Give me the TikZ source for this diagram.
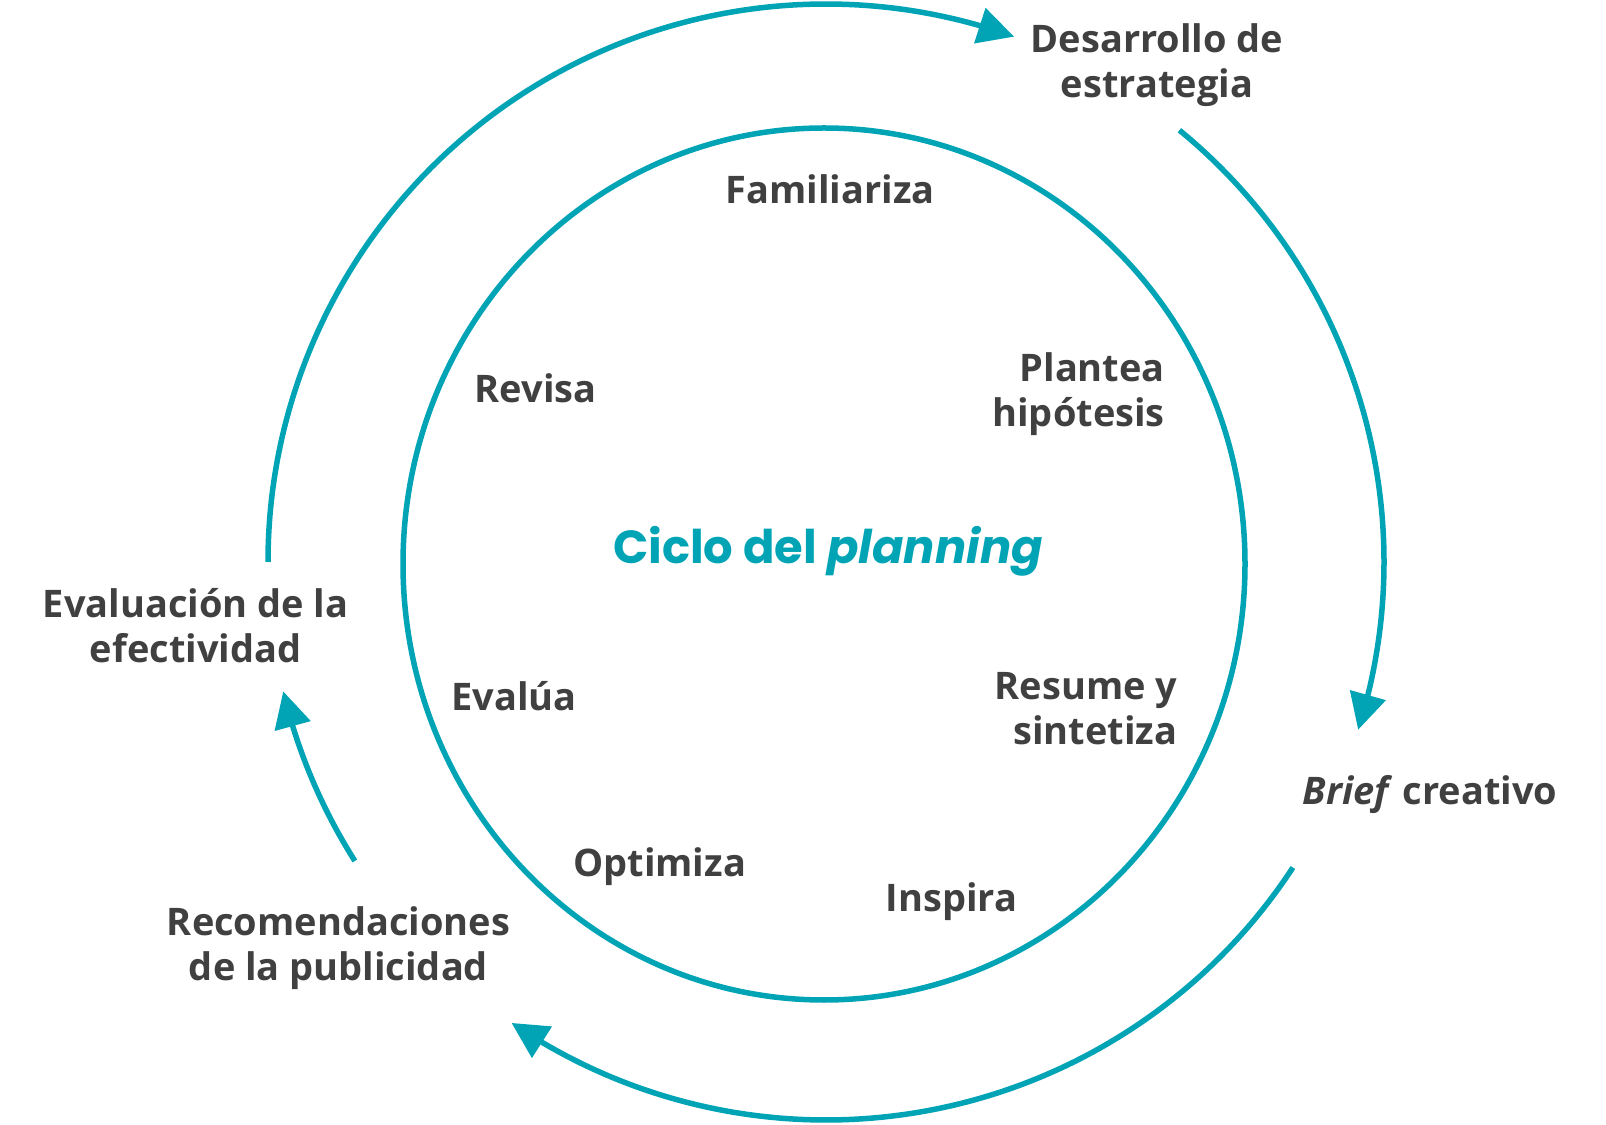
\documentclass[tikz,border=0pt]{standalone}
\usepackage{fontspec}
\setmainfont{Open Sans}
\newfontfamily\titlefont{Poppins}
\usetikzlibrary{arrows.meta,bending}
\definecolor{teal1}{RGB}{0,164,181}
\definecolor{txt}{RGB}{64,64,64}
\begin{document}
\begin{tikzpicture}[x=0.01cm,y=0.01cm,
  lbl/.style={inner sep=0pt,text=txt,font=\fontsize{10.8}{12.8}\selectfont\bfseries},
  ttl/.style={inner sep=0pt,text=teal1,font=\fontsize{13.2}{15}\selectfont\titlefont\bfseries},
  ring/.style={draw=teal1,line width=0.055cm},
  cyc/.style={draw=teal1,line width=0.055cm,-{Triangle[length=0.36cm,width=0.36cm]}}]
\useasboundingbox (0,0) rectangle (1606,1124);
\coordinate (O) at (826,562);
\coordinate (Oi) at (824,560);
% inner ring
\draw[ring] (Oi) ellipse [x radius=421, y radius=436];
% labels
\node[lbl,align=center] (estr) at (1157,1059) {Desarrollo de\\estrategia};
\node[lbl,align=center] (brief) at (1430,319) [anchor=base] {\textit{Brief} creativo};
\node[lbl,align=center] (recom) at (338.5,176) {Recomendaciones\\de la publicidad};
\node[lbl,align=center] (evalef) at (195.6,498) {Evaluación de la\\efectividad};
\node[lbl,anchor=base] (fam) at (830,920) {Familiariza};
\node[lbl,anchor=east,align=right] (plan) at (1165.5,730) {Plantea\\hipótesis};
\node[lbl,anchor=base] (rev) at (535.7,721.5) {Revisa};
\node[ttl,anchor=base] (title) at (828,560) {Ciclo del \textit{planning}};
\node[lbl,anchor=base] (evalua) at (514,413) {Evalúa};
\node[lbl,anchor=east,align=right] (res) at (1178,415) {Resume y\\sintetiza};
\node[lbl,anchor=base] (opt) at (659.6,248) {Optimiza};
\node[lbl,anchor=base] (insp) at (951.5,212.5) {Inspira};
% outer cycle arcs
\coordinate (a1) at ([shift={(180:558)}]O);
\coordinate (a2) at ([shift={(50.7:558)}]O);
\coordinate (a3) at ([shift={(-33.2:558)}]O);
\coordinate (a4) at ([shift={(212.4:558)}]O);
\draw[cyc] (a1) arc[start angle=180, end angle=70.3, radius=558];
\draw[cyc] (a2) arc[start angle=50.7, end angle=-17.5, radius=558];
\draw[cyc] (a3) arc[start angle=-33.2, end angle=-124.3, radius=558];
\draw[cyc] (a4) arc[start angle=212.4, end angle=193.4, radius=558];
\end{tikzpicture}
\end{document}
